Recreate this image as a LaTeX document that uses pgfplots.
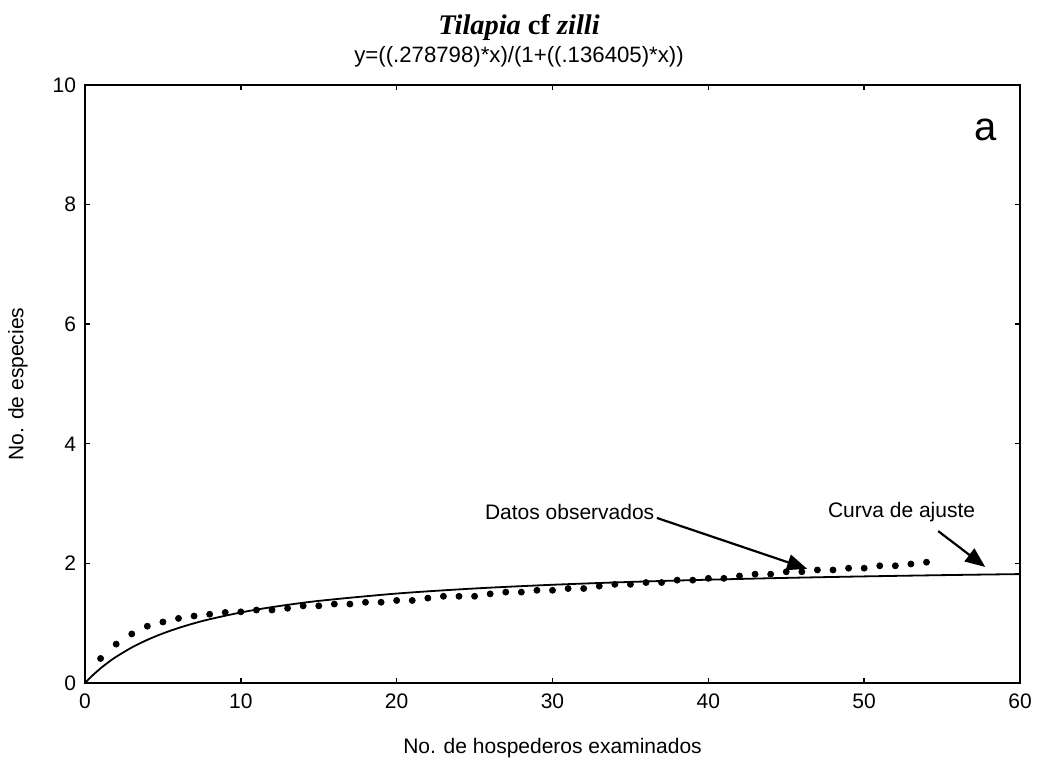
\documentclass[border=0pt]{standalone}
\usepackage{pgfplots}
\pgfplotsset{compat=1.18}
\usepackage{fontspec}
\setmainfont{Liberation Sans}
\newfontfamily\timesf{Liberation Serif}
\usetikzlibrary{arrows.meta}
\begin{document}
\begin{tikzpicture}
\useasboundingbox (-42.5pt,-40.5pt) rectangle (476.5pt,341.5pt);
\begin{axis}[
  scale only axis,
  width=467.5pt, height=299pt,
  xmin=0, xmax=60, ymin=0, ymax=10,
  xtick={0,10,...,60}, ytick={0,2,...,10},
  tick align=inside, tick pos=both,
  major tick length=2.5pt,
  axis line style={line width=0.9pt},
  tick style={line width=0.7pt, black},
  /pgf/number format/assume math mode=true,
  ticklabel style={font=\fontsize{10.5}{12}\selectfont},
  xticklabel style={yshift=-2pt},
  yticklabel style={xshift=-1pt},
  xlabel={No. de hospederos examinados},
  ylabel={No. de especies},
  label style={font=\fontsize{10.5}{12}\selectfont},
  xlabel style={at={(axis description cs:0.5,-0.1087)}, anchor=center},
  ylabel style={at={(axis description cs:-0.0717,0.5)}, anchor=center},
  clip=false,
]
\addplot[black, line width=0.9pt, smooth] coordinates {
(0,0)(0.25,0.0674)(0.5,0.1305)(1,0.2453)(1.5,0.3472)(2,0.4381)(3,0.5935)(4,0.7215)(5,0.8288)(6,0.9199)(7,0.9983)(8,1.0665)(10,1.1793)(12,1.2688)(15,1.3729)(20,1.4956)(25,1.5804)(30,1.6425)(35,1.6899)(40,1.7273)(45,1.7576)(50,1.7825)(55,1.8035)(60,1.8213)
};
\addplot[only marks, mark=*, mark size=1.5pt, black] table {
x y
1 0.41
2 0.65
3 0.82
4 0.95
5 1.02
6 1.08
7 1.12
8 1.15
9 1.18
10 1.19
11 1.22
12 1.22
13 1.25
14 1.29
15 1.29
16 1.32
17 1.32
18 1.35
19 1.35
20 1.38
21 1.38
22 1.42
23 1.45
24 1.45
25 1.45
26 1.49
27 1.52
28 1.52
29 1.55
30 1.55
31 1.58
32 1.58
33 1.62
34 1.65
35 1.65
36 1.68
37 1.68
38 1.72
39 1.72
40 1.75
41 1.75
42 1.79
43 1.82
44 1.82
45 1.86
46 1.86
47 1.89
48 1.89
49 1.92
50 1.92
51 1.96
52 1.96
53 1.99
54 2.02
};
\node[font=\fontsize{10.5}{12}\selectfont, anchor=center] at (axis cs:31.1,2.86) {Datos observados};
\node[font=\fontsize{10.5}{12}\selectfont, anchor=center] at (axis cs:52.4,2.86) {Curva de ajuste};
\draw[line width=1.1pt, -{Triangle[length=10pt,width=8pt]}] (axis cs:36.7,2.76) -- (axis cs:46.34,1.91);
\draw[line width=1.1pt, -{Triangle[length=10pt,width=8pt]}] (axis cs:54.75,2.54) -- (axis cs:57.77,1.94);
\node[font=\fontsize{20}{24}\selectfont, anchor=center] at (axis cs:57.77,9.25) {a};
\node[font=\timesf\bfseries\fontsize{14.2}{16}\selectfont, anchor=center] at (axis description cs:0.4642,1) [yshift=28.5pt] {\itshape Tilapia \upshape cf \itshape zilli};
\node[font=\fontsize{11.1}{13}\selectfont, anchor=center] at (axis description cs:0.4642,1) [yshift=14pt] {y=((.278798)*x)/(1+((.136405)*x))};
\end{axis}
\end{tikzpicture}
\end{document}
